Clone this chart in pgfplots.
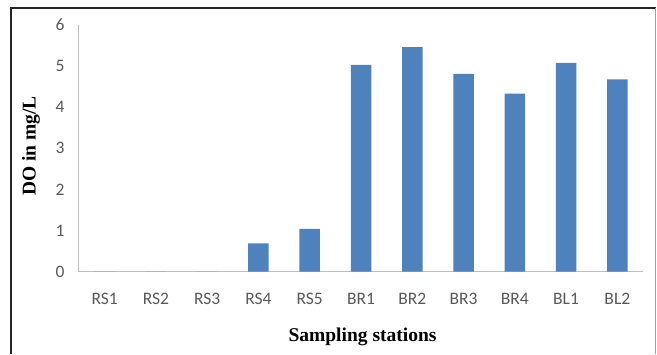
\documentclass[border=0pt]{standalone}
\usepackage{fontspec}
\setmainfont{Carlito}
\newfontfamily\labfont{Liberation Serif}
\usepackage{pgfplots}
\pgfplotsset{compat=1.18}
\definecolor{barblue}{RGB}{79,129,189}
\definecolor{ticktext}{RGB}{89,89,89}
\definecolor{axgray}{RGB}{190,190,190}
\begin{document}
\begin{tikzpicture}[x=1pt,y=1pt]
\useasboundingbox (0,0) rectangle (657,354);
\draw[black!85, line width=1.2pt] (11,0) -- (11,346) -- (655.5,346);
\draw[gray!75, line width=1.6pt] (655.5,346) -- (655.5,0);
\begin{axis}[
  at={(79pt,82.3pt)}, anchor=south west,
  scale only axis, width=564pt, height=246.7pt,
  xmin=-0.5, xmax=10.5, ymin=0, ymax=6,
  axis x line*=bottom, axis y line*=left,
  axis line style={axgray, line width=1pt},
  xtick={0,...,10},
  xticklabels={RS1,RS2,RS3,RS4,RS5,BR1,BR2,BR3,BR4,BL1,BL2},
  ytick={0,...,6},
  major tick length=0pt,
  tick label style={font=\fontsize{17.5}{20}\selectfont, text=ticktext},
  yticklabel style={xshift=-11pt},
  xticklabel style={yshift=-18pt},
  /pgf/number format/assume math mode=true,
  xlabel={Sampling stations},
  ylabel={DO in mg/L},
  label style={font=\labfont\bfseries\fontsize{19.5}{22}\selectfont, text=black},
  xlabel style={at={(axis description cs:0.5027,-0.265)}, anchor=center},
  ylabel style={at={(axis description cs:-0.085,0.51)}, anchor=center},
  clip=false,
]
\addplot[ybar, bar width=20.5pt, fill=barblue, draw=none] coordinates {
  (0,0) (1,0) (2,0) (3,0.69) (4,1.04) (5,5.03) (6,5.46) (7,4.81) (8,4.33) (9,5.08) (10,4.68)
};
\end{axis}
\end{tikzpicture}
\end{document}
